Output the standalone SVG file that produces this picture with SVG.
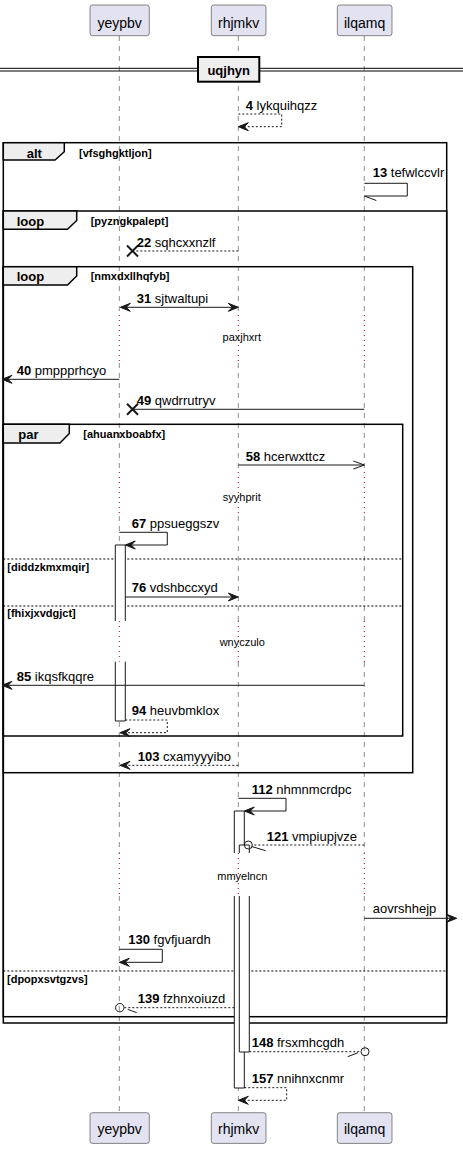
<svg xmlns="http://www.w3.org/2000/svg" width="463" height="1149" viewBox="0 0 463 1149">
<style>
text{font-family:"Liberation Sans",Arial,sans-serif;fill:#000}
.pn{font-size:14px;text-anchor:middle}
.lbl{font-size:13px}
.b{font-weight:bold}
.gl{font-size:13px;font-weight:bold}
.gc{font-size:11px;font-weight:bold}
.dt{font-size:11px;text-anchor:middle}
.part rect{fill:#E2E2F0;stroke:#181818;stroke-width:0.5}
.ll{stroke:#181818;stroke-width:0.5;stroke-dasharray:5,5;fill:none}
.dl{stroke:#A80036;stroke-width:1;stroke-dasharray:1,4;fill:none}
.m{stroke:#181818;stroke-width:1;fill:none}
.d{stroke-dasharray:2,2}
.ah{fill:#181818;stroke:#181818;stroke-width:1}
.x{stroke:#181818;stroke-width:2}
.fr{fill:none;stroke:#000;stroke-width:1.5}
.tab{fill:#EEEEEE;stroke:#000;stroke-width:1.5}
.sep{stroke:#000;stroke-width:1;stroke-dasharray:2,2}
.bar{fill:#FFFFFF;stroke:none}
.barl{fill:none;stroke:#181818;stroke-width:1}
.circ{fill:none;stroke:#181818;stroke-width:1}
</style>

<g id="lifelines">
<path class="ll" d="M119.3,36V315M119.3,363V472M119.3,516V621M119.3,662V853M119.3,896V1112"/>
<path class="ll" d="M238.3,36V315M238.3,363V472M238.3,516V621M238.3,662V853M238.3,896V1112"/>
<path class="ll" d="M364.3,36V315M364.3,363V472M364.3,516V621M364.3,662V853M364.3,896V1112"/>
<path class="dl" d="M119.3,315V363M238.3,315V363M364.3,315V363M119.3,472V516M238.3,472V516M364.3,472V516M119.3,621V662M238.3,621V662M364.3,621V662M119.3,853V896M238.3,853V896M364.3,853V896"/>
</g>

<g id="divider-uqjhyn">
<line x1="0" y1="68.3" x2="463" y2="68.3" stroke="#000" stroke-width="1"/>
<line x1="0" y1="71" x2="463" y2="71" stroke="#000" stroke-width="1"/>
<rect x="198" y="57" width="61.3" height="24.7" fill="#EEEEEE" stroke="#000" stroke-width="2"/>
<text class="gl" x="228.7" y="75" text-anchor="middle">uqjhyn</text>
</g>

<g id="frames">
<g id="alt-vfsghgktljon">
<rect class="fr" x="3.3" y="142.7" width="443.4" height="880.3"/>
<path class="tab" d="M3.3,142.7H64.3V151.7L55,160H3.3Z"/>
<text class="gl" x="26.7" y="157.5">alt</text>
<text class="gc" x="79" y="156.5">[vfsghgktljon]</text>
</g>
<g id="loop-pyzngkpalept">
<rect class="fr" x="3.3" y="211" width="443.4" height="805.7"/>
<path class="tab" d="M3.3,211H76.7V220.5L67.5,229.3H3.3Z"/>
<text class="gl" x="16.7" y="225.5">loop</text>
<text class="gc" x="90.7" y="224.5">[pyzngkpalept]</text>
<line class="sep" x1="3.3" y1="971" x2="446.7" y2="971"/>
<text class="gc" x="7" y="983">[dpopxsvtgzvs]</text>
</g>
<g id="loop-nmxdxllhqfyb">
<rect class="fr" x="3.3" y="266.7" width="409.4" height="506"/>
<path class="tab" d="M3.3,266.7H76.7V276L67.5,285H3.3Z"/>
<text class="gl" x="16.7" y="281">loop</text>
<text class="gc" x="90.7" y="280">[nmxdxllhqfyb]</text>
</g>
<g id="par-ahuanxboabfx">
<rect class="fr" x="3.3" y="424.3" width="399.4" height="311.7"/>
<path class="tab" d="M3.3,424.3H69.3V433.5L60,443H3.3Z"/>
<text class="gl" x="18.3" y="438.5">par</text>
<text class="gc" x="83.3" y="437.5">[ahuanxboabfx]</text>
<line class="sep" x1="3.3" y1="559" x2="402.7" y2="559"/>
<text class="gc" x="7.3" y="571">[diddzkmxmqir]</text>
<line class="sep" x1="3.3" y1="606" x2="402.7" y2="606"/>
<text class="gc" x="7.3" y="617">[fhixjxvdgjct]</text>
</g>
</g>

<g id="activations">
<rect class="bar" x="115.3" y="545" width="10" height="76"/>
<rect class="bar" x="115.3" y="661.7" width="10" height="59.3"/>
<path class="barl" d="M115.3,621V545H125.3V621M115.3,661.7V721H125.3V661.7"/>
<rect class="bar" x="234.3" y="811" width="10" height="42"/>
<rect class="bar" x="234.3" y="896" width="10" height="192"/>
<path class="barl" d="M234.3,853V811H244.3V853M234.3,896V1088H244.3V896"/>
<rect class="bar" x="239.3" y="845" width="10" height="8"/>
<rect class="bar" x="239.3" y="896" width="10" height="156"/>
<path class="barl" d="M239.3,853V845H249.3V853M239.3,896V1052H249.3V896"/>
</g>

<g id="delays">
<text class="dt" x="241.8" y="341">paxjhxrt</text>
<text class="dt" x="241.8" y="500.5">syyhprit</text>
<text class="dt" x="242.3" y="646">wnyczulo</text>
<text class="dt" x="242.3" y="880">mmyelncn</text>
</g>

<g id="connectors">
<!-- 4 -->
<polyline class="m d" points="238.3,114 281.7,114 281.7,126.7 240,126.7"/>
<polygon class="ah" points="238.3,126.7 248.3,122.7 244.3,126.7 248.3,130.7"/>
<text class="lbl" x="245.7" y="109.5"><tspan class="b">4</tspan> lykquihqzz</text>
<!-- 13 -->
<polyline class="m" points="364.3,183.3 407.3,183.3 407.3,196 364.3,196"/>
<line class="m" x1="364.3" y1="196" x2="376.3" y2="200.5"/>
<text class="lbl" x="372.7" y="176.5"><tspan class="b">13</tspan> tefwlccvlr</text>
<!-- 22 -->
<line class="m d" x1="238.3" y1="251" x2="133" y2="251"/>
<path class="x" d="M127,245.5L138,256.5M127,256.5L138,245.5"/>
<text class="lbl" x="136.7" y="247"><tspan class="b">22</tspan> sqhcxxnzlf</text>
<!-- 31 -->
<line class="m" x1="122" y1="307.3" x2="236" y2="307.3"/>
<polygon class="ah" points="120.3,307.3 130.3,303.3 126.3,307.3 130.3,311.3"/>
<polygon class="ah" points="238.3,307.3 228.3,303.3 232.3,307.3 228.3,311.3"/>
<text class="lbl" x="136.7" y="302.5"><tspan class="b">31</tspan> sjtwaltupi</text>
<!-- 40 -->
<line class="m" x1="119.3" y1="379.3" x2="4" y2="379.3"/>
<polygon class="ah" points="2,379.3 12,375.3 8,379.3 12,383.3"/>
<text class="lbl" x="16.7" y="374.5"><tspan class="b">40</tspan> pmppprhcyo</text>
<!-- 49 -->
<line class="m" x1="364.3" y1="409.3" x2="133" y2="409.3"/>
<path class="x" d="M127,403.8L138,414.8M127,414.8L138,403.8"/>
<text class="lbl" x="136.7" y="404.5"><tspan class="b">49</tspan> qwdrrutryv</text>
<!-- 58 -->
<line class="m" x1="238.3" y1="465" x2="364.3" y2="465"/>
<polyline class="m" points="353.3,461 364.3,465 353.3,469"/>
<text class="lbl" x="245.7" y="460.5"><tspan class="b">58</tspan> hcerwxttcz</text>
<!-- 67 -->
<polyline class="m" points="119.3,532.3 167.3,532.3 167.3,545 127,545"/>
<polygon class="ah" points="125.3,545 135.3,541 131.3,545 135.3,549"/>
<text class="lbl" x="131.7" y="527.5"><tspan class="b">67</tspan> ppsueggszv</text>
<!-- 76 -->
<line class="m" x1="125.3" y1="597" x2="236" y2="597"/>
<polygon class="ah" points="238.3,597 228.3,593 232.3,597 228.3,601"/>
<text class="lbl" x="131.7" y="592"><tspan class="b">76</tspan> vdshbccxyd</text>
<!-- 85 -->
<line class="m" x1="364.3" y1="685.3" x2="4" y2="685.3"/>
<polygon class="ah" points="2,685.3 12,681.3 8,685.3 12,689.3"/>
<text class="lbl" x="16.7" y="680.5"><tspan class="b">85</tspan> ikqsfkqqre</text>
<!-- 94 -->
<polyline class="m d" points="125.3,720 167.3,720 167.3,732.7 122,732.7"/>
<polygon class="ah" points="120,732.7 130,728.7 126,732.7 130,736.7"/>
<text class="lbl" x="131.7" y="715"><tspan class="b">94</tspan> heuvbmklox</text>
<!-- 103 -->
<line class="m d" x1="238.3" y1="765.3" x2="122" y2="765.3"/>
<polygon class="ah" points="120,765.3 130,761.3 126,765.3 130,769.3"/>
<text class="lbl" x="137.7" y="760.5"><tspan class="b">103</tspan> cxamyyyibo</text>
<!-- 112 -->
<polyline class="m" points="238.3,798.3 286,798.3 286,811 246,811"/>
<polygon class="ah" points="244.3,811 254.3,807 250.3,811 254.3,815"/>
<text class="lbl" x="251.7" y="793.5"><tspan class="b">112</tspan> nhmnmcrdpc</text>
<!-- 121 -->
<line class="m d" x1="364.3" y1="845" x2="252.3" y2="845"/>
<circle class="circ" cx="248.3" cy="845" r="4"/>
<line class="m" x1="251.7" y1="846.5" x2="265.7" y2="850.7"/>
<text class="lbl" x="266.7" y="840.5"><tspan class="b">121</tspan> vmpiupjvze</text>
<!-- aovrshhejp -->
<line class="m" x1="364.3" y1="918.3" x2="454" y2="918.3"/>
<polygon class="ah" points="456.7,918.3 446.7,914.3 450.7,918.3 446.7,922.3"/>
<text class="lbl" x="372.7" y="913.3">aovrshhejp</text>
<!-- 130 -->
<polyline class="m" points="119.3,949.3 162.3,949.3 162.3,962.3 121,962.3"/>
<polygon class="ah" points="119.3,962.3 129.3,958.3 125.3,962.3 129.3,966.3"/>
<text class="lbl" x="128.3" y="944.3"><tspan class="b">130</tspan> fgvfjuardh</text>
<!-- 139 -->
<line class="m d" x1="234.3" y1="1007.7" x2="124" y2="1007.7"/>
<circle class="circ" cx="119.8" cy="1007.7" r="4.2"/>
<line class="m" x1="127.7" y1="1009.3" x2="136.7" y2="1012.7"/>
<text class="lbl" x="137.7" y="1002.7"><tspan class="b">139</tspan> fzhnxoiuzd</text>
<!-- 148 -->
<line class="m d" x1="249.3" y1="1051.7" x2="361" y2="1051.7"/>
<circle class="circ" cx="365" cy="1051.7" r="4"/>
<line class="m" x1="347.7" y1="1056.7" x2="358" y2="1052.7"/>
<text class="lbl" x="251.7" y="1047"><tspan class="b">148</tspan> frsxmhcgdh</text>
<!-- 157 -->
<polyline class="m d" points="244.3,1087.7 286.7,1087.7 286.7,1100.3 240,1100.3"/>
<polygon class="ah" points="238.3,1100.3 248.3,1096.3 244.3,1100.3 248.3,1104.3"/>
<text class="lbl" x="251.7" y="1082.7"><tspan class="b">157</tspan> nnihnxcnmr</text>
</g>

<g id="yeypbv" class="part">
<rect x="90" y="5" width="59.3" height="30.7" rx="2.5"/>
<text class="pn" x="119.6" y="27.5">yeypbv</text>
<rect x="90" y="1112.7" width="59.3" height="30.7" rx="2.5"/>
<text class="pn" x="119.6" y="1134">yeypbv</text>
</g>
<g id="rhjmkv" class="part">
<rect x="211.3" y="5" width="54.7" height="30.7" rx="2.5"/>
<text class="pn" x="238.6" y="27.5">rhjmkv</text>
<rect x="211.3" y="1112.7" width="54.7" height="30.7" rx="2.5"/>
<text class="pn" x="238.6" y="1134">rhjmkv</text>
</g>
<g id="ilqamq" class="part">
<rect x="337.3" y="5" width="54.7" height="30.7" rx="2.5"/>
<text class="pn" x="364.6" y="27.5">ilqamq</text>
<rect x="337.3" y="1112.7" width="54.7" height="30.7" rx="2.5"/>
<text class="pn" x="364.6" y="1134">ilqamq</text>
</g>
</svg>
